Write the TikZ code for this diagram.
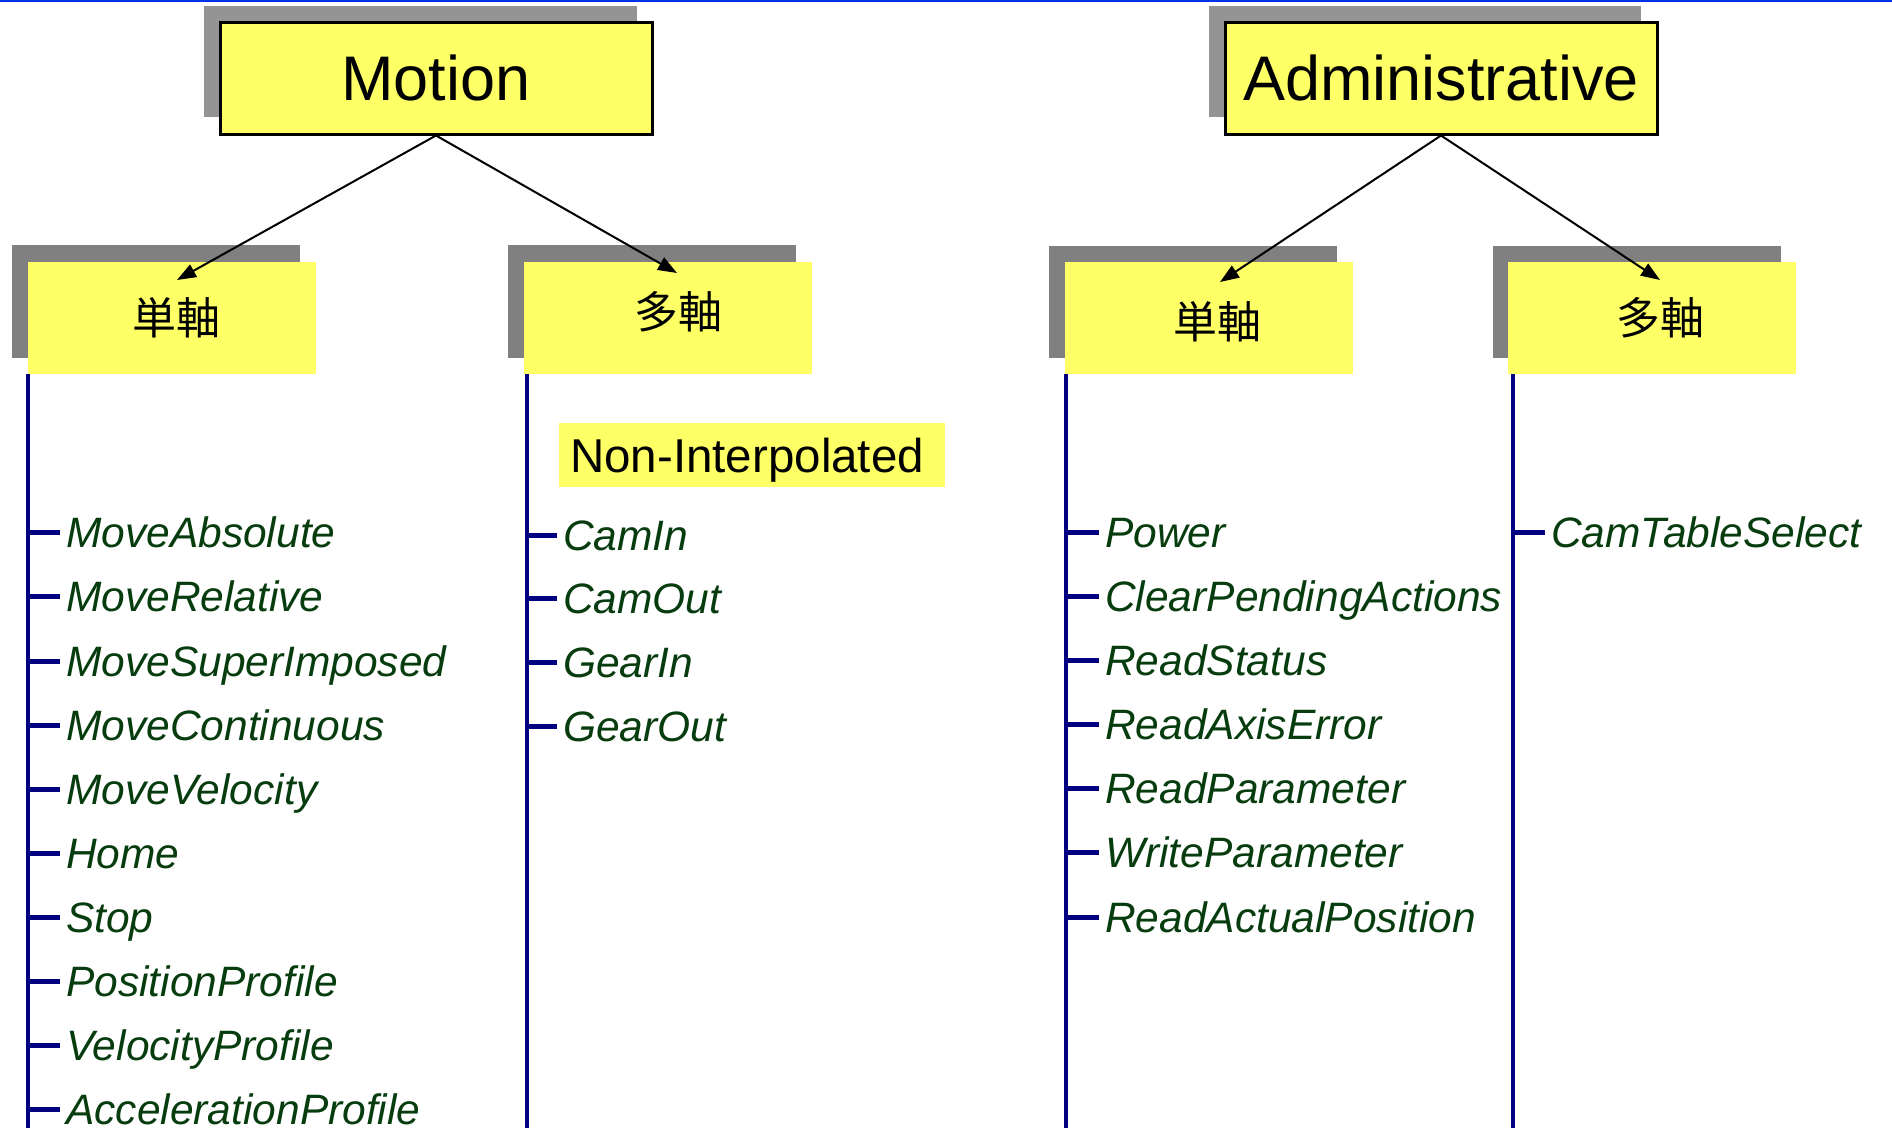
\documentclass[tikz,border=0pt]{standalone}
\usepackage{fontspec}
\setmainfont{Liberation Sans}
\newfontfamily\cjk{Noto Sans CJK JP}
\usetikzlibrary{arrows.meta,positioning,calc}

\definecolor{boxyellow}{RGB}{255,255,102}
\definecolor{shadowgray}{RGB}{128,128,128}
\definecolor{topshadow}{RGB}{148,148,148}
\definecolor{treenavy}{RGB}{0,0,128}
\definecolor{itemgreen}{RGB}{6,60,14}
\definecolor{rulecolor}{RGB}{0,51,230}

\tikzset{
  x=1pt, y=-1pt,
  topbox/.style={draw=black, line width=3pt, fill=boxyellow, inner sep=0pt,
    minimum width=432pt, minimum height=112pt,
    font=\fontsize{63}{70}\selectfont},
  subbox/.style={fill=boxyellow, inner sep=0pt, outer sep=0pt,
    minimum width=288pt, minimum height=112pt},
  cjklabel/.style={inner sep=0pt, font=\cjk\fontsize{44}{50}\selectfont},
  topshade/.style={fill=topshadow},
  subshade/.style={fill=shadowgray},
  link/.style={line width=2pt, -{Triangle[length=19pt,width=14pt]}},
  trunk/.style={draw=treenavy, line width=4pt},
  twig/.style={draw=treenavy, line width=5pt},
  item/.style={anchor=west, inner sep=0pt, text height=30.4pt, text depth=0pt,
    text=itemgreen, font=\fontsize{42.5}{48}\selectfont\itshape},
  group/.style={fill=boxyellow, anchor=west, inner xsep=11pt, inner ysep=0pt,
    text width=364pt, align=left,
    minimum height=64pt, text height=34pt, text depth=0pt,
    font=\fontsize{47.5}{54}\selectfont}
}

\begin{document}
\begin{tikzpicture}
\useasboundingbox (0,0) rectangle (1892,1128);
\fill[white] (0,0) rectangle (1892,1128);
\fill[rulecolor] (0,0) rectangle (1892,2);

% ---- Motion ------------------------------------------------------
\fill[topshade] (204,6) rectangle (637,117);
\node[topbox] (motion) at (436,78) {Motion};

\fill[subshade] (12,245) rectangle (300,358);
\node[subbox] (ms) at (172,318) {};
\node[cjklabel] (mst) at (176,318) {単軸};

\fill[subshade] (508,245) rectangle (796,358);
\node[subbox] (mm) at (668,318) {};
\node[cjklabel] (mmt) at (678,312) {多軸};

\draw[link] (motion.south) -- ([shift={(5,18)}]ms.north);
\draw[link] (motion.south) -- ([shift={(9,11)}]mm.north);

% ---- Administrative ---------------------------------------------
\fill[topshade] (1209,6) rectangle (1641,117);
\node[topbox] (admin) at (1441,78) {Administrative};

\fill[subshade] (1049,246) rectangle (1337,358);
\node[subbox] (as) at (1209,318) {};
\node[cjklabel] (ast) at (1217,322) {単軸};

\fill[subshade] (1493,246) rectangle (1781,358);
\node[subbox] (am) at (1652,318) {};
\node[cjklabel] (amt) at (1660,318) {多軸};

\draw[link] (admin.south) -- ([shift={(11,20)}]as.north);
\draw[link] (admin.south) -- ([shift={(8,18)}]am.north);

% ---- trunks ---------------------------------------------------------
\coordinate (msend) at (28,1128);
\coordinate (mmend) at (527,1128);
\coordinate (asend) at (1066,1128);
\coordinate (amend) at (1513,1128);
\draw[trunk] (msend |- ms.south) -- (msend);
\draw[trunk] (mmend |- mm.south) -- (mmend);
\draw[trunk] (asend |- as.south) -- (asend);
\draw[trunk] (amend |- am.south) -- (amend);

% ---- single-axis motion blocks ---------------------------------
\foreach \name/\txt/\yy in {
  a1/MoveAbsolute/532, a2/MoveRelative/596, a3/MoveSuperImposed/661,
  a4/MoveContinuous/725, a5/MoveVelocity/789, a6/Home/853, a7/Stop/917,
  a8/PositionProfile/981, a9/VelocityProfile/1045, a10/AccelerationProfile/1109}{
  \node[item] (\name) at (66,\yy) {\txt};
  \draw[twig] (msend |- \name.west) -- ([xshift=-6pt]\name.west);
}

% ---- multi-axis motion blocks ----------------------------------
\node[group] (nonint) at (559,455) {Non-Interpolated};
\foreach \name/\txt/\yy in {
  b1/CamIn/535, b2/CamOut/598, b3/GearIn/662, b4/GearOut/726}{
  \node[item] (\name) at (563,\yy) {\txt};
  \draw[twig] (mmend |- \name.west) -- ([xshift=-6pt]\name.west);
}

% ---- single-axis administrative blocks ---------------------------
\foreach \name/\txt/\yy in {
  c1/Power/532, c2/ClearPendingActions/596, c3/ReadStatus/660,
  c4/ReadAxisError/724, c5/ReadParameter/788, c6/WriteParameter/852,
  c7/ReadActualPosition/917}{
  \node[item] (\name) at (1105,\yy) {\txt};
  \draw[twig] (asend |- \name.west) -- ([xshift=-6pt]\name.west);
}

% ---- multi-axis administrative blocks ----------------------------
\node[item] (d1) at (1551,532) {CamTableSelect};
\draw[twig] (amend |- d1.west) -- ([xshift=-6pt]d1.west);

\end{tikzpicture}
\end{document}
